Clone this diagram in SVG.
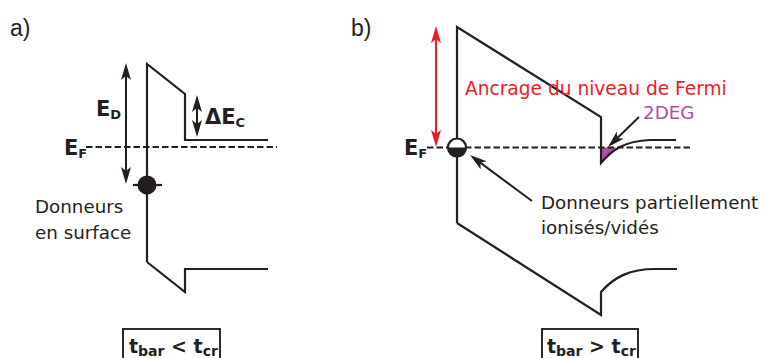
<svg xmlns="http://www.w3.org/2000/svg" width="763" height="358" viewBox="0 0 763 358">
<style>
.band{fill:none;stroke:#231f20;stroke-width:2.2;stroke-linejoin:miter}
.ef{fill:none;stroke:#231f20;stroke-width:1.9;stroke-dasharray:6.5 3}
.arr{fill:none;stroke:#231f20;stroke-width:2}
.red{stroke:#ed1c24}
.t{font-family:"DejaVu Sans",Verdana,sans-serif;font-size:18.3px;fill:#231f20}
.lbl{font-family:"Liberation Sans",Arial,sans-serif;font-size:23px;fill:#231f20}
.b{font-family:"DejaVu Sans",Verdana,sans-serif;font-weight:bold;fill:#231f20}
.box{fill:none;stroke:#231f20;stroke-width:1.9}
</style>
<defs>
<marker id="ah" markerUnits="userSpaceOnUse" orient="auto-start-reverse" overflow="visible" markerWidth="20" markerHeight="12" refX="0" refY="0">
<path d="M4,0 L-13,-5 L-9,0 L-13,5 Z" fill="#231f20"/>
</marker>
<marker id="ahr" markerUnits="userSpaceOnUse" orient="auto-start-reverse" overflow="visible" markerWidth="20" markerHeight="12" refX="0" refY="0">
<path d="M4,0 L-13,-5 L-9,0 L-13,5 Z" fill="#ed1c24"/>
</marker>
</defs>

<text class="lbl" x="10" y="36">a)</text>
<text class="lbl" x="351" y="36">b)</text>

<g id="panelA">
<g id="bandA-conduction"><path class="band" d="M147,262 L147,64 L185,94 L185,140 L268,140"/></g>
<g id="bandA-valence"><path class="band" d="M147,262 L185,292 L185,269 L268,269"/></g>
<g id="efA"><line class="ef" x1="86" y1="147" x2="277" y2="147"/>
<text class="b" x="64" y="155" font-size="21">E<tspan font-size="13" dy="3">F</tspan></text></g>
<g id="edA"><text class="b" x="96" y="116" font-size="21">E<tspan font-size="13" dy="3">D</tspan></text></g>
<g id="decA"><text class="b" x="205" y="124" font-size="21">ΔE<tspan font-size="13" dy="3">C</tspan></text></g>
<g id="donorA"><line class="band" x1="133" y1="185" x2="162" y2="185"/><circle cx="147" cy="185" r="9.5" fill="#231f20"/>
<text class="t" x="35" y="213">Donneurs</text><text class="t" x="35" y="239">en surface</text></g>
<g id="boxA"><rect class="box" x="123" y="329" width="97" height="40"/>
<text class="b" x="129" y="353" font-size="19">t<tspan font-size="14" dy="3">bar</tspan><tspan dy="-3"> &lt; t</tspan><tspan font-size="14" dy="3">cr</tspan></text></g>
</g>

<g id="panelB">
<g id="bandB-conduction"><path d="M601,147.5 L616,147.5 Q609,154 601,163 Z" fill="#b04fa2"/>
<path class="band" d="M457,223 L457,27 L601,117 L601,163 C612,150 624,141 650,140 L676,140"/></g>
<g id="bandB-valence"><path class="band" d="M457,223 L601,315 L601,292 C614,277 630,269 655,269 L677,269"/></g>
<g id="efB"><line class="ef" x1="427" y1="147.5" x2="692" y2="147.5"/>
<text class="b" x="404" y="155" font-size="21">E<tspan font-size="13" dy="3">F</tspan></text></g>
<g id="donorB"><circle cx="457" cy="147.5" r="9" fill="#fff" stroke="#231f20" stroke-width="2.2"/>
<path d="M448,147.5 A9,9 0 0,0 466,147.5 Z" fill="#231f20"/>
<text class="t" x="541" y="209">Donneurs partiellement</text><text class="t" x="541" y="234">ionisés/vidés</text></g>
<g id="pinning"><text class="t" x="465" y="95" style="fill:#ed1c24;font-size:18.6px">Ancrage du niveau de Fermi</text></g>
<g id="twodeg"><text class="t" x="643" y="119" style="fill:#b04fa2">2DEG</text></g>
<g id="boxB"><rect class="box" x="542" y="329" width="96" height="40"/>
<text class="b" x="547" y="353" font-size="19">t<tspan font-size="14" dy="3">bar</tspan><tspan dy="-3"> &gt; t</tspan><tspan font-size="14" dy="3">cr</tspan></text></g>
</g>

<g id="connectors">
<line class="arr" x1="126" y1="67" x2="126" y2="180" marker-start="url(#ah)" marker-end="url(#ah)"/>
<line class="arr" x1="197" y1="99" x2="197" y2="133" marker-start="url(#ah)" marker-end="url(#ah)"/>
<line class="arr red" x1="436" y1="30" x2="436" y2="143" marker-start="url(#ahr)" marker-end="url(#ahr)"/>
<line class="arr" x1="532" y1="201" x2="473.2" y2="157.4" marker-end="url(#ah)"/>
<line class="arr" x1="639" y1="117" x2="610.9" y2="144.2" marker-end="url(#ah)"/>
</g>
</svg>
